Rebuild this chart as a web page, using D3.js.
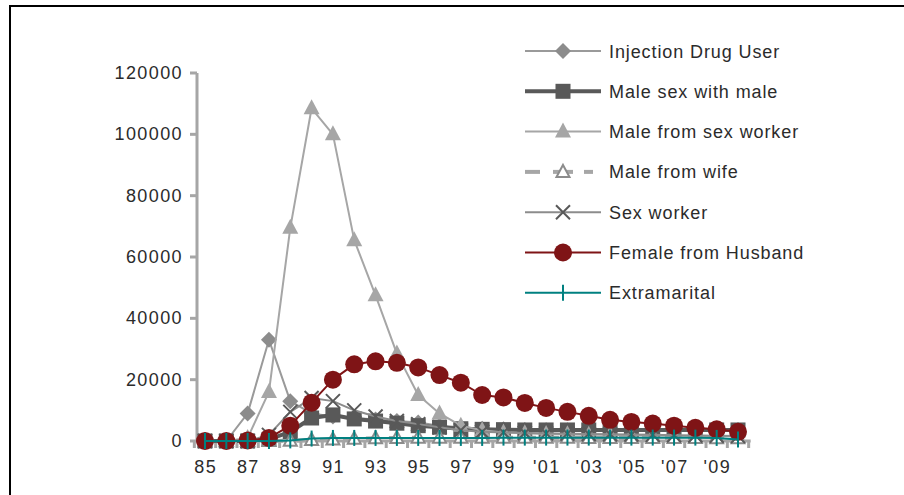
<!DOCTYPE html>
<html>
<head>
<meta charset="utf-8">
<script src="https://cdn.jsdelivr.net/npm/d3@7"></script>
<style>
  body { margin: 0; background: #fff; }
  text { font-family: "Liberation Sans", Arial, sans-serif; fill: #2b2b2b; }
</style>
</head>
<body>
<div id="chart"></div>
<script>
// categories (years)
const years = ["85","86","87","88","89","90","91","92","93","94","95","96","97","98","99",
  "'00","'01","'02","'03","'04","'05","'06","'07","'08","'09","'10"];
const yTicks = [0, 20000, 40000, 60000, 80000, 100000, 120000];

// series values
const idu = [0,0,9000,33000,13000,9000,8000,7500,7000,6500,6000,5000,4500,4000,3800,3600,3500,3500,3500,3500,3500,3500,3500,3500,3500,3500];
const msm = [0,0,0,500,3000,7500,8500,7200,6500,5800,5000,4500,4000,3800,3700,3600,3600,3600,3600,3600,3600,3600,3600,3600,3600,3600];
const msw = [0,0,1000,16000,69500,108500,100000,65500,47500,28500,15000,9000,5000,3500,2800,2500,2300,2200,2000,2000,1900,1800,1700,1700,1600,1500];
const mfw = [0,0,0,0,100,300,500,700,900,1000,1100,1100,1100,1100,1100,1100,1100,1100,1000,1000,1000,1000,1000,1000,900,900];
const sw = [0,0,0,2000,9500,14000,13000,10000,8000,6500,5500,4500,3500,3000,2800,2600,2500,2400,2300,2200,2100,2000,1900,1800,1700,1600];
const ffh = [0,0,200,1000,5000,12500,20000,25000,26000,25500,24000,21500,19000,15000,14200,12400,10800,9500,8200,6900,6200,5700,5000,4300,3800,3000];
const extra = [0,0,0,0,200,800,1000,1000,1000,1000,1000,1000,1000,1000,1100,1100,1100,1100,1100,1100,1100,1100,1100,1100,1000,500];

const seriesNames = ["Injection Drug User","Male sex with male","Male from sex worker",
  "Male from wife","Sex worker","Female from Husband","Extramarital"];
const seriesData = [idu, msm, msw, mfw, sw, ffh, extra];

const styles = [
  {line: "#9a9a9a", width: 2, marker: "diamond", fill: "#8c8c8c"},
  {line: "#595959", width: 4, marker: "square", fill: "#595959"},
  {line: "#a6a6a6", width: 2, marker: "triangle", fill: "#a6a6a6"},
  {line: "#a6a6a6", width: 4, dash: "9,14", marker: "opentri", fill: "#fff"},
  {line: "#8c8c8c", width: 2, marker: "cross", fill: "#595959"},
  {line: "#7f1416", width: 2, marker: "circle", fill: "#7f1416"},
  {line: "#008080", width: 2, marker: "tick", fill: "#008080"}
];

const w = 904, h = 495;
const svg = d3.select("#chart").append("svg").attr("width", w).attr("height", h);

// outer frame
svg.append("rect").attr("x", 10).attr("y", 6).attr("width", 920).attr("height", 520)
  .attr("fill", "none").attr("stroke", "#000").attr("stroke-width", 2);

const xScale = d3.scalePoint().domain(years).range([205, 738]);
const yScale = d3.scaleLinear().domain([0, 120000]).range([441, 73]);

// y axis
const yAxis = svg.append("g").attr("transform", "translate(197,0)");
yAxis.append("line").attr("y1", 73).attr("y2", 442).attr("stroke", "#a6a6a6").attr("stroke-width", 3);
yAxis.selectAll("line.tk").data(yTicks).enter().append("line").attr("class", "tk")
  .attr("x1", -7).attr("x2", 0)
  .attr("y1", d => yScale(d)).attr("y2", d => yScale(d))
  .attr("stroke", "#a6a6a6").attr("stroke-width", 3);
yAxis.selectAll("text").data(yTicks).enter().append("text")
  .attr("x", -14).attr("y", d => yScale(d) + 6)
  .attr("text-anchor", "end").attr("font-size", "18px").attr("letter-spacing", "1.4px")
  .text(d => d);

// x axis
const step = xScale.step();
const x0 = xScale(years[0]) - step / 2, x1 = xScale(years[years.length - 1]) + step / 2;
const xAxis = svg.append("g");
xAxis.append("line").attr("x1", 196).attr("x2", x1 + 2).attr("y1", 441).attr("y2", 441)
  .attr("stroke", "#a6a6a6").attr("stroke-width", 3);
const boundaries = d3.range(years.length + 1).map(i => x0 + i * step);
xAxis.selectAll("line.tk").data(boundaries).enter().append("line").attr("class", "tk")
  .attr("x1", d => d).attr("x2", d => d).attr("y1", 441).attr("y2", 448)
  .attr("stroke", "#a6a6a6").attr("stroke-width", 3);
xAxis.selectAll("text").data(years.filter((d, i) => i % 2 === 0)).enter().append("text")
  .attr("x", d => xScale(d) + 0.7).attr("y", 473)
  .attr("text-anchor", "middle").attr("font-size", "18px").attr("letter-spacing", "1.4px")
  .text(d => d);

function drawMarker(g, type, st, x, y) {
  if (type === "diamond") {
    g.append("path").attr("d", `M${x},${y - 8}L${x + 8},${y}L${x},${y + 8}L${x - 8},${y}Z`)
      .attr("fill", st.fill);
  } else if (type === "square") {
    g.append("rect").attr("x", x - 7.5).attr("y", y - 7.5).attr("width", 15).attr("height", 15)
      .attr("fill", st.fill);
  } else if (type === "triangle") {
    g.append("path").attr("d", `M${x},${y - 9}L${x + 8},${y + 6}L${x - 8},${y + 6}Z`)
      .attr("fill", st.fill);
  } else if (type === "opentri") {
    g.append("path").attr("d", `M${x},${y - 7}L${x + 6.5},${y + 5}L${x - 6.5},${y + 5}Z`)
      .attr("fill", "#fff").attr("stroke", "#8c8c8c").attr("stroke-width", 2);
  } else if (type === "cross") {
    g.append("path").attr("d", `M${x - 7},${y - 7}L${x + 7},${y + 7}M${x + 7},${y - 7}L${x - 7},${y + 7}`)
      .attr("stroke", st.fill).attr("stroke-width", 2).attr("fill", "none");
  } else if (type === "circle") {
    g.append("circle").attr("cx", x).attr("cy", y).attr("r", 9).attr("fill", st.fill);
  } else if (type === "tick") {
    g.append("path").attr("d", `M${x},${y - 8}L${x},${y + 8}`)
      .attr("stroke", st.fill).attr("stroke-width", 2);
  }
}

// series
const line = d3.line().x((d, i) => xScale(years[i])).y(d => yScale(d));
seriesData.forEach((vals, s) => {
  const st = styles[s];
  const g = svg.append("g");
  g.append("path").datum(vals).attr("d", line).attr("fill", "none")
    .attr("stroke", st.line).attr("stroke-width", st.width)
    .attr("stroke-dasharray", st.dash || null).attr("stroke-linejoin", "round");
  vals.forEach((v, i) => drawMarker(g, st.marker, st, xScale(years[i]), yScale(v)));
});

// legend
const legend = svg.append("g");
seriesNames.forEach((name, s) => {
  const st = styles[s];
  const y = 51 + s * 40.3;
  const g = legend.append("g");
  if (st.dash) {
    g.append("line").attr("x1", 525).attr("x2", 540).attr("y1", y).attr("y2", y)
      .attr("stroke", st.line).attr("stroke-width", 4);
    g.append("line").attr("x1", 553).attr("x2", 573).attr("y1", y).attr("y2", y)
      .attr("stroke", st.line).attr("stroke-width", 4);
    g.append("line").attr("x1", 584).attr("x2", 593).attr("y1", y).attr("y2", y)
      .attr("stroke", st.line).attr("stroke-width", 4);
  } else {
    g.append("line").attr("x1", 525).attr("x2", 601).attr("y1", y).attr("y2", y)
      .attr("stroke", st.line).attr("stroke-width", st.width);
  }
  drawMarker(g, st.marker, st, 563, y);
  g.append("text").attr("x", 609).attr("y", y + 6.5)
    .attr("font-size", "18px").attr("letter-spacing", "0.9px").text(name);
});
</script>
</body>
</html>
